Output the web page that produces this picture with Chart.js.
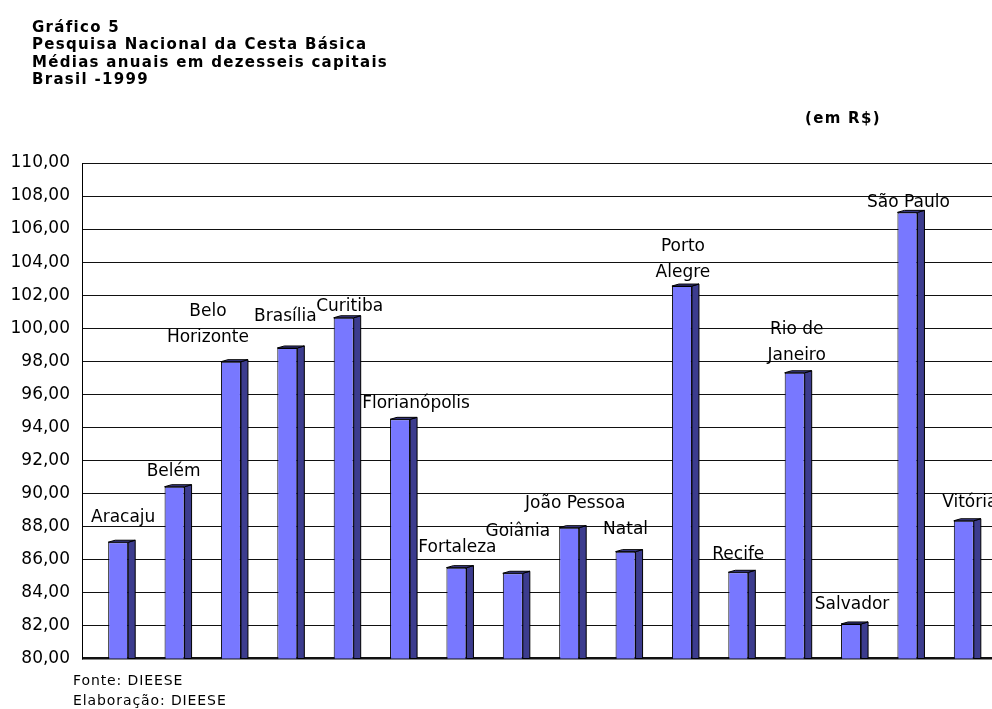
<!DOCTYPE html>
<html>
<head>
<meta charset="utf-8">
<script src="https://cdn.jsdelivr.net/npm/chart.js@4"></script>
<style>
  body { margin: 0; background: #fff; }
  #wrap { position: relative; width: 992px; height: 709px; overflow: hidden; }
  #chart { position: absolute; left: 0; top: 0; }
  .title { position: absolute; left: 32px; top: 18.7px; font: bold 15px 'DejaVu Sans'; letter-spacing: 1.3px; line-height: 17.5px; color: #000; }
  .unit { position: absolute; left: 805px; top: 110px; font: bold 15px 'DejaVu Sans'; letter-spacing: 1.3px; line-height: 17.5px; color: #000; }
  .foot { position: absolute; left: 73px; top: 670px; font: 14px 'DejaVu Sans'; letter-spacing: 0.9px; line-height: 20px; color: #000; }
</style>
</head>
<body>
<div id="wrap">
  <canvas id="chart" width="992" height="709"></canvas>
  <div class="title">Gráfico 5<br>Pesquisa Nacional da Cesta Básica<br>Médias anuais em dezesseis capitais<br>Brasil -1999</div>
  <div class="unit">(em R$)</div>
  <div class="foot">Fonte: DIEESE<br>Elaboração: DIEESE</div>
</div>
<script>
// ===== data =====
const cities = [
    'Aracaju', 'Belém', ['Belo', 'Horizonte'], 'Brasília', 'Curitiba', 'Florianópolis',
    'Fortaleza', 'Goiânia', 'João Pessoa', 'Natal', ['Porto', 'Alegre'], 'Recife',
    ['Rio de', 'Janeiro'], 'Salvador', 'São Paulo', 'Vitória'
];
const basketCost = [
    87.04, 90.40, 97.97, 98.80, 100.63, 94.48,
    85.50, 85.16, 87.92, 86.47, 102.55, 85.22,
    97.30, 82.09, 107.01, 88.34
];
const yMin = 80;
const yMax = 110;
const yStep = 2;

// label nudges (dx, dy) as the labels were dragged in the original
const labelNudge = {
    0: [5, -7], 1: [-1, 3], 2: [-23, -6], 3: [-2, -13], 4: [6, 7], 5: [16, 2],
    6: [1, -2], 7: [5, -24], 8: [6, -6], 9: [0, -4], 10: [1, 5], 12: [2, 1],
    13: [1, -1], 14: [1, 8], 15: [6, 0]
};

const FRONT = '#7878FF';
const SIDE = '#3C3C8E';
const DEPTH_X = 7, DEPTH_Y = 2;

// 3D side and top faces of each bar
const bar3d = {
    id: 'bar3d',
    afterDatasetsDraw(chart) {
        const ctx = chart.ctx;
        const floor = chart.chartArea.bottom;
        chart.getDatasetMeta(0).data.forEach(bar => {
            const l = bar.x - bar.width / 2, r = bar.x + bar.width / 2;
            const t = bar.y, b = Math.min(bar.base, floor);
            ctx.save();
            ctx.fillStyle = SIDE;
            ctx.strokeStyle = '#000';
            ctx.lineWidth = 1;
            ctx.beginPath();
            ctx.moveTo(r, t);
            ctx.lineTo(r + DEPTH_X, t - DEPTH_Y);
            ctx.lineTo(r + DEPTH_X, b);
            ctx.lineTo(r, b);
            ctx.closePath();
            ctx.fill(); ctx.stroke();
            ctx.beginPath();
            ctx.moveTo(l, t);
            ctx.lineTo(l + DEPTH_X, t - DEPTH_Y);
            ctx.lineTo(r + DEPTH_X, t - DEPTH_Y);
            ctx.lineTo(r, t);
            ctx.closePath();
            ctx.fill(); ctx.stroke();
            ctx.restore();
        });
    }
};

// city names above the bars
const cityLabels = {
    id: 'cityLabels',
    afterDatasetsDraw(chart) {
        const ctx = chart.ctx;
        ctx.save();
        ctx.font = '17px "DejaVu Sans"';
        ctx.fillStyle = '#000';
        ctx.textAlign = 'center';
        ctx.textBaseline = 'middle';
        chart.getDatasetMeta(0).data.forEach((bar, i) => {
            const lines = [].concat(cities[i]);
            const n = labelNudge[i] || [0, 0];
            const x = bar.x + n[0];
            const yLast = bar.y - 18 + n[1];
            lines.forEach((txt, k) => {
                ctx.fillText(txt, x, yLast - (lines.length - 1 - k) * 26);
            });
        });
        ctx.restore();
    }
};

// front edge of the 3D wall
const axisWall = {
    id: 'axisWall',
    beforeDatasetsDraw(chart) {
        const { ctx, chartArea } = chart;
        ctx.save();
        ctx.strokeStyle = '#000';
        ctx.lineWidth = 1;
        ctx.beginPath();
        ctx.moveTo(chartArea.left - 7.5, chartArea.top);
        ctx.lineTo(chartArea.left - 7.5, chartArea.bottom + 1);
        ctx.stroke();
        ctx.restore();
    }
};

Chart.defaults.font.family = '"DejaVu Sans"';
Chart.defaults.color = '#000';

new Chart(document.getElementById('chart'), {
    type: 'bar',
    data: {
        labels: cities,
        datasets: [{
            data: basketCost,
            backgroundColor: FRONT,
            borderColor: '#000',
            borderWidth: 1,
            barPercentage: 0.355,
            categoryPercentage: 1
        }]
    },
    options: {
        responsive: false,
        animation: false,
        devicePixelRatio: 1,
        layout: { padding: { top: 163, bottom: 50.5, left: 0, right: 0 } },
        plugins: { legend: { display: false }, tooltip: { enabled: false } },
        scales: {
            x: { display: false },
            y: {
                min: yMin,
                max: yMax,
                afterFit: s => { s.width = 90; },
                ticks: {
                    stepSize: yStep,
                    padding: 12,
                    font: { size: 17 },
                    color: '#000',
                    callback: v => v.toFixed(2).replace('.', ',')
                },
                grid: {
                    color: '#111',
                    tickColor: '#111',
                    tickLength: 8,
                    lineWidth: c => (c.tick && c.tick.value === yMin ? 2.5 : 1)
                },
                border: { display: false }
            }
        }
    },
    plugins: [axisWall, bar3d, cityLabels]
});
</script>
</body>
</html>
